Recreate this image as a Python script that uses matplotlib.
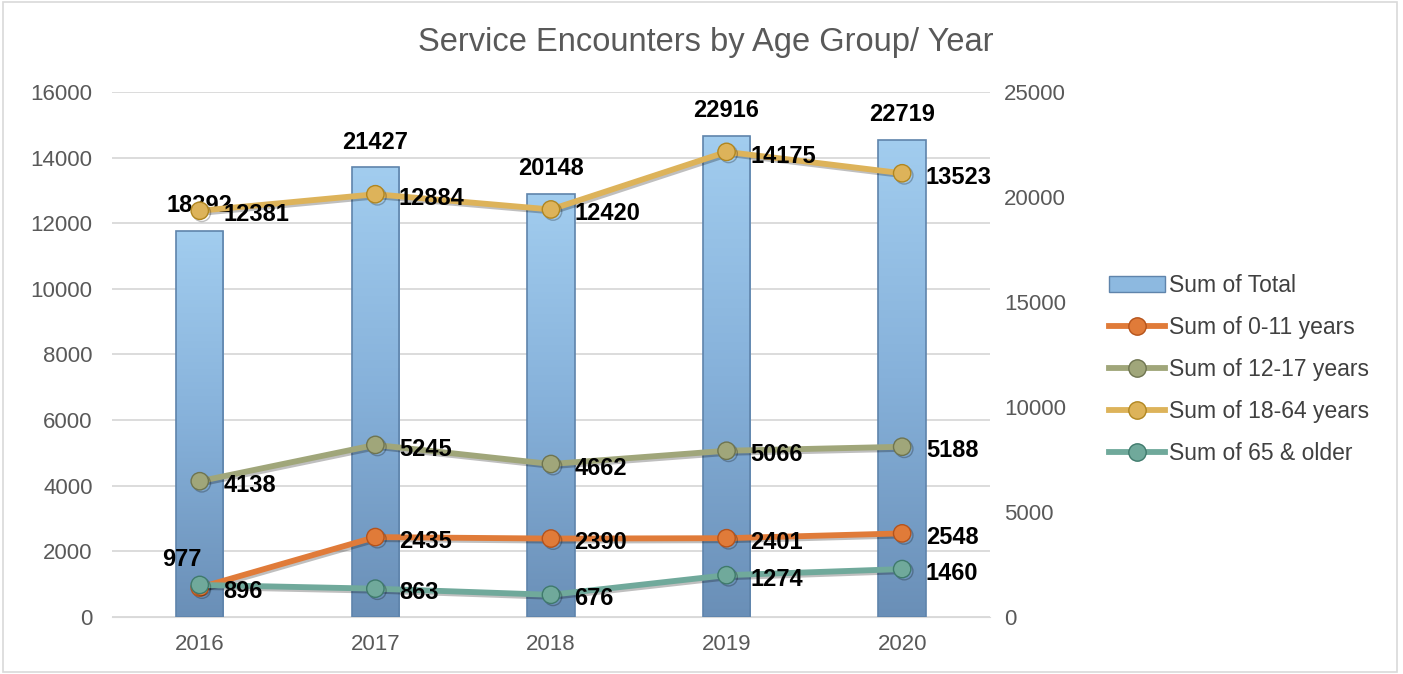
import numpy as np
import matplotlib.pyplot as plt
from matplotlib.patches import Patch, Rectangle
from matplotlib.lines import Line2D
from matplotlib.colors import LinearSegmentedColormap
import matplotlib.patheffects as pe

plt.rcParams['font.family'] = ['Liberation Sans', 'DejaVu Sans']

years = ['2016', '2017', '2018', '2019', '2020']
totals = [18392, 21427, 20148, 22916, 22719]
age_0_11 = [896, 2435, 2390, 2401, 2548]
age_12_17 = [4138, 5245, 4662, 5066, 5188]
age_18_64 = [12381, 12884, 12420, 14175, 13523]
age_65_plus = [977, 863, 676, 1274, 1460]

series = [
    ('Sum of 0-11 years', age_0_11, '#E07B39', '#B5531B'),
    ('Sum of 12-17 years', age_12_17, '#A0A67A', '#6E7450'),
    ('Sum of 18-64 years', age_18_64, '#DDB35A', '#B08620'),
    ('Sum of 65 & older', age_65_plus, '#70A99B', '#3F7A6C'),
]

TEXT_GRAY = '#595959'
x = np.arange(len(years))

fig = plt.figure(figsize=(14.03, 6.74), dpi=100)
fig.patches.append(Rectangle((0.002, 0.003), 0.994, 0.994, transform=fig.transFigure,
                             fill=False, edgecolor='#D9D9D9', linewidth=1.2))
rect = [0.0798, 0.0846, 0.6258, 0.7789]

# three layers: grid (left scale) -> bars (right scale) -> lines (left scale)
ax_grid = fig.add_axes(rect)
ax = fig.add_axes(rect, sharex=ax_grid, sharey=ax_grid)
ax_bar = ax.twinx()
ax_grid.set_zorder(1)
ax_bar.set_zorder(2)
ax.set_zorder(3)
ax.patch.set_visible(False)
ax_bar.patch.set_visible(False)

ax.set_xlim(-0.5, 4.5)
ax.set_ylim(0, 16000)
ax.set_yticks(np.arange(0, 16001, 2000))
ax_grid.grid(axis='y', color='#D9D9D9', linewidth=1.3)
ax_grid.tick_params(left=False, bottom=False, labelleft=False, labelbottom=False)
for s in ax_grid.spines.values():
    s.set_visible(False)
ax_grid.spines['bottom'].set_visible(True)
ax_grid.spines['bottom'].set_color('#D9D9D9')

# bars on the right axis with a vertical gradient
bar_w = 0.27
ax_bar.set_ylim(0, 25000)
ax_bar.set_yticks(np.arange(0, 25001, 5000))
bars = ax_bar.bar(x, totals, bar_w, facecolor='none', edgecolor='#5F84AB', linewidth=1.2, zorder=3)
grad = np.linspace(1, 0, 256).reshape(-1, 1)
cmap = LinearSegmentedColormap.from_list('barblue', ['#6A8FB7', '#86B1DA', '#A2CDEF'])
for b in bars:
    bx, by = b.get_x(), b.get_y()
    im = ax_bar.imshow(grad, extent=(bx, bx + b.get_width(), by, by + b.get_height()),
                       cmap=cmap, aspect='auto', origin='upper', zorder=2, vmin=0, vmax=1)
    im.set_clip_path(b)
ax_bar.set_xlim(-0.5, 4.5)
ax_bar.set_ylim(0, 25000)
for v, xi in zip(totals, x):
    ax_bar.annotate(str(v), (xi, v), xytext=(0, 18), textcoords='offset points',
                    ha='center', va='center', fontsize=17, fontweight='bold', color='black')

# lines on the left axis
shadow = [pe.SimpleLineShadow(offset=(1.5, -1.5), alpha=0.25), pe.Normal()]
for name, vals, col, edge in series:
    ax.plot(x, vals, color=col, linewidth=4.2, marker='o', markersize=12.5,
            markerfacecolor=col, markeredgecolor=edge, markeredgewidth=1,
            path_effects=shadow, zorder=4)

for name, vals, col, edge in series:
    for i, (xi, v) in enumerate(zip(x, vals)):
        if name == 'Sum of 65 & older' and i == 0:
            ax.annotate(str(v), (xi, v), xytext=(-13, 18), textcoords='offset points',
                        ha='center', va='center', fontsize=17, fontweight='bold', zorder=6)
        else:
            ax.annotate(str(v), (xi, v), xytext=(17, -3), textcoords='offset points',
                        ha='left', va='center', fontsize=17, fontweight='bold', zorder=6)

ax.set_xticks(x)
ax.set_xticklabels(years)
for a in (ax, ax_bar):
    for s in a.spines.values():
        s.set_visible(False)
ax.tick_params(axis='both', length=0, labelsize=16, labelcolor=TEXT_GRAY, pad=12)
ax.tick_params(axis='y', pad=14)
ax_bar.tick_params(axis='y', length=0, labelsize=16, labelcolor=TEXT_GRAY, pad=10)

fig.text(0.503, 0.937, 'Service Encounters by Age Group/ Year', ha='center', va='center',
         fontsize=23.5, color=TEXT_GRAY)

handles = [Patch(facecolor='#8DB9E0', edgecolor='#5F84AB', label='Sum of Total')]
for name, vals, col, edge in series:
    handles.append(Line2D([], [], color=col, linewidth=4.2, marker='o', markersize=12.5,
                          markerfacecolor=col, markeredgecolor=edge, label=name))
fig.legend(handles=handles, loc='center left', bbox_to_anchor=(0.776, 0.452),
           frameon=False, fontsize=16.5, labelcolor='#404040', labelspacing=0.83,
           handlelength=2.45, handletextpad=0.15)

fig.savefig('out.png', dpi=100)
